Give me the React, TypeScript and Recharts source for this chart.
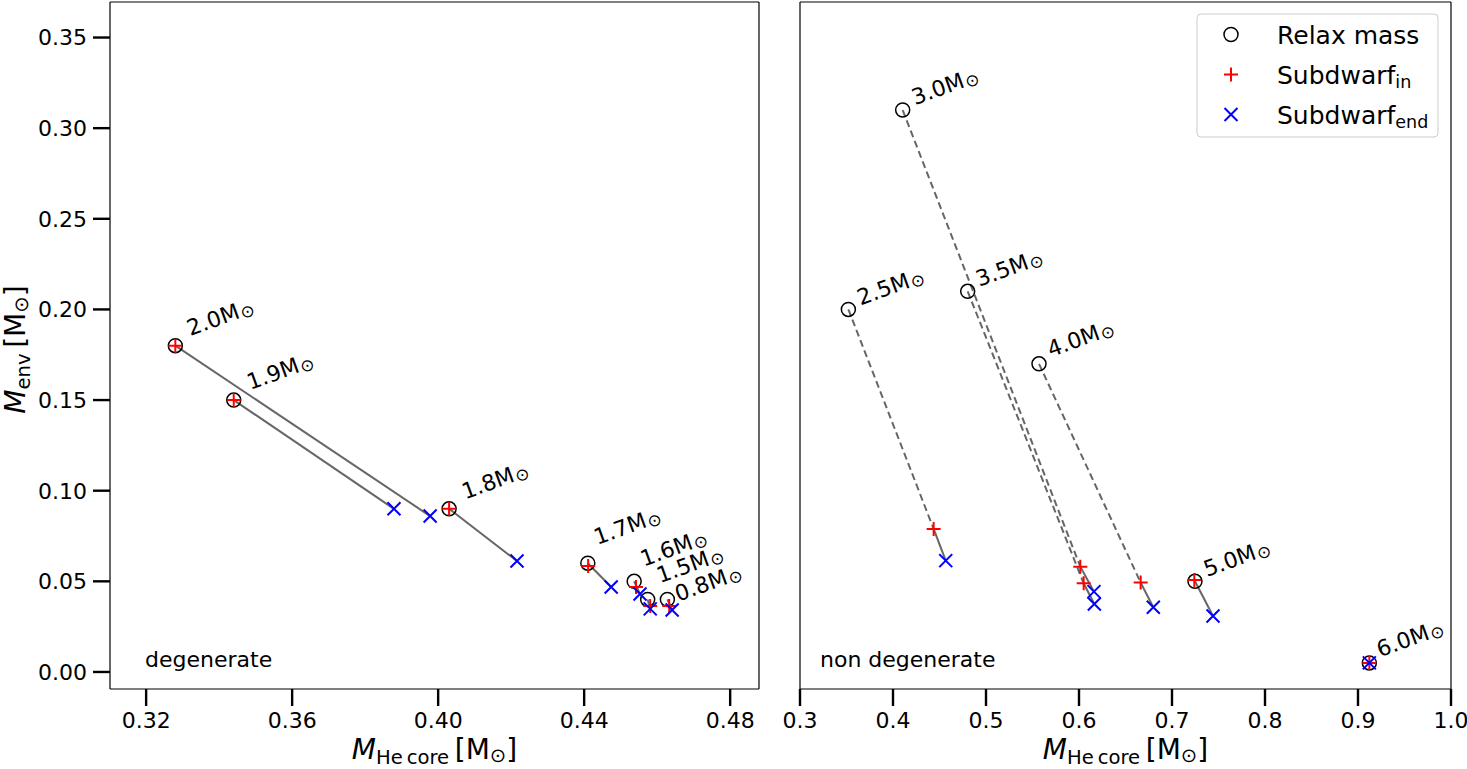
import React from 'react';
import { ScatterChart, Scatter, XAxis, YAxis } from 'recharts';

const FONT = '"DejaVu Sans", sans-serif';

// ---------- Left panel (degenerate) ----------
const leftMasses = ['2.0', '1.9', '1.8', '1.7', '1.6', '1.5', '0.8'];
const leftRelaxX = [0.328, 0.344, 0.403, 0.441, 0.4537, 0.4574, 0.4628];
const leftRelaxY = [0.18, 0.15, 0.09, 0.06, 0.05, 0.04, 0.04];
const leftInX = [0.328, 0.344, 0.403, 0.4411, 0.4542, 0.4581, 0.4633];
const leftInY = [0.18, 0.15, 0.09, 0.0585, 0.0469, 0.0364, 0.0364];
const leftEndX = [0.3978, 0.3879, 0.4216, 0.4474, 0.4553, 0.4581, 0.4641];
const leftEndY = [0.086, 0.09, 0.0612, 0.0469, 0.043, 0.0348, 0.0342];
const leftLabelX = [0.3321, 0.3485, 0.4074, 0.4436, 0.4563, 0.4608, 0.4658];
const leftLabelY = [0.1853, 0.1555, 0.0952, 0.07, 0.0581, 0.0489, 0.0388];

// ---------- Right panel (non degenerate) ----------
const rightMasses = ['2.5', '3.0', '3.5', '4.0', '5.0', '6.0'];
const rightRelaxX = [0.352, 0.4104, 0.4803, 0.557, 0.7247, 0.9122];
const rightRelaxY = [0.2, 0.31, 0.21, 0.17, 0.05, 0.005];
const rightInX = [0.4437, 0.6014, 0.605, 0.6663, 0.724, 0.9122];
const rightInY = [0.0789, 0.0581, 0.0489, 0.0493, 0.0507, 0.005];
const rightEndX = [0.4567, 0.6161, 0.6165, 0.6799, 0.7441, 0.9122];
const rightEndY = [0.0614, 0.0443, 0.0375, 0.0357, 0.0309, 0.005];
const rightLabelX = [0.3651, 0.4237, 0.4928, 0.5696, 0.7376, 0.9237];
const rightLabelY = [0.2022, 0.3127, 0.2125, 0.1736, 0.0524, 0.0081];

// ---------- Axes ----------
const leftXTicks = [0.32, 0.36, 0.4, 0.44, 0.48];
const rightXTicks = [0.3, 0.4, 0.5, 0.6, 0.7, 0.8, 0.9, 1.0];
const yTicks = [0, 0.05, 0.1, 0.15, 0.2, 0.25, 0.3, 0.35];
const leftXDomain = [0.3101, 0.4879];
const rightXDomain = [0.3, 1.0];
const yDomain = [-0.0094, 0.3696];

const regimeText = ['degenerate', 'non degenerate'];
const regimeX = [0.3197, 0.3215];
const regimeY = [0.0025, 0.0025];

const legendLabels = ['Relax mass', 'Subdwarf', 'Subdwarf'];
const legendSubs = ['', 'in', 'end'];

const zip = (xs: number[], ys: number[]) => xs.map((x, i) => ({ x, y: ys[i] }));

const CircleMark = (p: any) => (
  <circle cx={p.cx} cy={p.cy} r={7} fill="none" stroke="#000" strokeWidth={1.5} />
);
const PlusMark = (p: any) => (
  <path d={`M${p.cx - 7},${p.cy}H${p.cx + 7}M${p.cx},${p.cy - 7}V${p.cy + 7}`} stroke="#ff0000" strokeWidth={2} />
);
const CrossMark = (p: any) => (
  <path
    d={`M${p.cx - 6.5},${p.cy - 6.5}L${p.cx + 6.5},${p.cy + 6.5}M${p.cx - 6.5},${p.cy + 6.5}L${p.cx + 6.5},${p.cy - 6.5}`}
    stroke="#0000ff"
    strokeWidth={2}
  />
);
const NoMark = () => <g />;

const MassLabel = (p: any) => {
  const t = p.payload?.text ?? '';
  return (
    <text
      x={p.cx}
      y={p.cy}
      transform={`rotate(-20 ${p.cx} ${p.cy})`}
      fontFamily={FONT}
      fontSize={22}
      fill="#000"
    >
      {t}M
      <tspan fontSize={17} dx={1} dy={2}>{'\u2299'}</tspan>
    </text>
  );
};

const RegimeLabel = (p: any) => (
  <text x={p.cx} y={p.cy} fontFamily={FONT} fontSize={22} fill="#000">
    {p.payload?.text}
  </text>
);

const XTitle = (props: any) => {
  const vb = props.viewBox || {};
  const cx = (vb.x ?? 0) + (vb.width ?? 0) / 2;
  const y = (vb.y ?? 0) + 70;
  return (
    <text x={cx} y={y} textAnchor="middle" fontFamily={FONT} fontSize={28} fill="#000">
      <tspan fontStyle="italic">M</tspan>
      <tspan fontSize={19.6} dy={5}>{'He\u2009core'}</tspan>
      <tspan dy={-5}>{'\u2009[M'}</tspan>
      <tspan fontSize={19.6} dy={3}>{'\u2299'}</tspan>
      <tspan dy={-3}>]</tspan>
    </text>
  );
};

const YTitle = (props: any) => {
  const vb = props.viewBox || {};
  const cy = (vb.y ?? 0) + (vb.height ?? 0) / 2 + 4;
  const x = 25;
  return (
    <text
      x={x}
      y={cy}
      textAnchor="middle"
      transform={`rotate(-90 ${x} ${cy})`}
      fontFamily={FONT}
      fontSize={28}
      fill="#000"
    >
      <tspan fontStyle="italic">M</tspan>
      <tspan fontSize={19.6} dy={5}>env</tspan>
      <tspan dy={-5}>{'\u2009[M'}</tspan>
      <tspan fontSize={19.6} dy={3}>{'\u2299'}</tspan>
      <tspan dy={-3}>]</tspan>
    </text>
  );
};

const tickStyle = { fill: '#000', fontSize: 22, fontFamily: FONT };
const tickLineStyle = { stroke: '#000', strokeWidth: 2.4 };
const spine = { stroke: '#000', strokeWidth: 1.2 };
const grayLine = '#666666';

function Panel(props: {
  width: number;
  marginRight: number;
  yWidth: number;
  showYLabels: boolean;
  xDomain: number[];
  xTicks: number[];
  xFmt: (v: number) => string;
  masses: string[];
  relaxX: number[];
  relaxY: number[];
  inX: number[];
  inY: number[];
  endX: number[];
  endY: number[];
  labelX: number[];
  labelY: number[];
  dashedToIn: boolean;
  regimeIndex: number;
}) {
  const {
    width, marginRight, yWidth, showYLabels, xDomain, xTicks, xFmt, masses,
    relaxX, relaxY, inX, inY, endX, endY, labelX, labelY, dashedToIn, regimeIndex,
  } = props;
  const relax = zip(relaxX, relaxY);
  const sdIn = zip(inX, inY);
  const sdEnd = zip(endX, endY);
  const labels = labelX.map((x, i) => ({ x, y: labelY[i], text: masses[i] }));
  const regime = [{ x: regimeX[regimeIndex], y: regimeY[regimeIndex], text: regimeText[regimeIndex] }];

  return (
    <ScatterChart width={width} height={769} margin={{ top: 1, right: marginRight - 1, bottom: 0, left: 0 }}>
      <XAxis
        xAxisId="b"
        type="number"
        dataKey="x"
        domain={xDomain}
        ticks={xTicks}
        tickFormatter={xFmt}
        allowDataOverflow
        height={80}
        tickSize={17}
        tickMargin={6}
        tick={tickStyle}
        tickLine={tickLineStyle}
        axisLine={spine}
        label={{ content: XTitle }}
      />
      <XAxis
        xAxisId="t"
        orientation="top"
        type="number"
        dataKey="x"
        domain={xDomain}
        allowDataOverflow
        height={1}
        tick={false}
        tickLine={false}
        axisLine={spine}
      />
      <YAxis
        yAxisId="l"
        type="number"
        dataKey="y"
        domain={yDomain}
        ticks={yTicks}
        tickFormatter={(v: number) => v.toFixed(2)}
        allowDataOverflow
        width={yWidth}
        tickSize={17}
        tickMargin={6}
        tick={showYLabels ? tickStyle : false}
        tickLine={tickLineStyle}
        axisLine={spine}
        label={showYLabels ? { content: YTitle } : undefined}
      />
      <YAxis
        yAxisId="r"
        orientation="right"
        type="number"
        dataKey="y"
        domain={yDomain}
        allowDataOverflow
        width={1}
        tick={false}
        tickLine={false}
        axisLine={spine}
      />
      {/* invisible series bound to the top/right axes so that those spines render */}
      <Scatter xAxisId="t" yAxisId="r" data={relax} shape={NoMark} isAnimationActive={false} />
      {relax.map((r, i) =>
        dashedToIn ? (
          <Scatter
            key={`d${i}`}
            xAxisId="b"
            yAxisId="l"
            data={[r, sdIn[i]]}
            shape={NoMark}
            line={{ stroke: grayLine, strokeWidth: 2, strokeDasharray: '7 4' }}
            isAnimationActive={false}
          />
        ) : null
      )}
      {relax.map((r, i) => (
        <Scatter
          key={`s${i}`}
          xAxisId="b"
          yAxisId="l"
          data={dashedToIn ? [sdIn[i], sdEnd[i]] : [r, sdEnd[i]]}
          shape={NoMark}
          line={{ stroke: grayLine, strokeWidth: 2 }}
          isAnimationActive={false}
        />
      ))}
      <Scatter xAxisId="b" yAxisId="l" data={relax} shape={CircleMark} isAnimationActive={false} />
      <Scatter xAxisId="b" yAxisId="l" data={sdIn} shape={PlusMark} isAnimationActive={false} />
      <Scatter xAxisId="b" yAxisId="l" data={sdEnd} shape={CrossMark} isAnimationActive={false} />
      <Scatter xAxisId="b" yAxisId="l" data={labels} shape={MassLabel} isAnimationActive={false} />
      <Scatter xAxisId="b" yAxisId="l" data={regime} shape={RegimeLabel} isAnimationActive={false} />
    </ScatterChart>
  );
}

function LegendBox() {
  const rows = [34.5, 74.5, 114.5];
  const markers = [
    <circle key="c" cx={1231} cy={rows[0]} r={7} fill="none" stroke="#000" strokeWidth={1.5} />,
    <path key="p" d={`M1224,${rows[1]}H1238M1231,${rows[1] - 7}V${rows[1] + 7}`} stroke="#ff0000" strokeWidth={2} />,
    <path
      key="x"
      d={`M1224.5,${rows[2] - 6.5}L1237.5,${rows[2] + 6.5}M1224.5,${rows[2] + 6.5}L1237.5,${rows[2] - 6.5}`}
      stroke="#0000ff"
      strokeWidth={2}
    />,
  ];
  return (
    <svg width={1467} height={769} style={{ position: 'absolute', left: 0, top: 0, pointerEvents: 'none' }}>
      <rect x={1197} y={14} width={241} height={123} rx={4} fill="#fff" fillOpacity={0.8} stroke="#cccccc" strokeWidth={1} />
      {markers}
      {legendLabels.map((t, i) => (
        <text key={i} x={1277} y={rows[i] + 9} fontFamily={FONT} fontSize={25} fill="#000">
          {t}
          {legendSubs[i] ? (
            <tspan fontSize={17.5} dy={4}>{legendSubs[i]}</tspan>
          ) : null}
        </text>
      ))}
    </svg>
  );
}

export default function App() {
  return (
    <div style={{ position: 'absolute', left: 0, top: 0, width: 1467, height: 769, background: '#fff' }}>
      <div style={{ position: 'absolute', left: 0, top: 0 }}>
        <Panel
          width={770}
          marginRight={11}
          yWidth={110}
          showYLabels={true}
          xDomain={leftXDomain}
          xTicks={leftXTicks}
          xFmt={(v) => v.toFixed(2)}
          masses={leftMasses}
          relaxX={leftRelaxX}
          relaxY={leftRelaxY}
          inX={leftInX}
          inY={leftInY}
          endX={leftEndX}
          endY={leftEndY}
          labelX={leftLabelX}
          labelY={leftLabelY}
          dashedToIn={false}
          regimeIndex={0}
        />
      </div>
      <div style={{ position: 'absolute', left: 770, top: 0 }}>
        <Panel
          width={697}
          marginRight={16}
          yWidth={30}
          showYLabels={false}
          xDomain={rightXDomain}
          xTicks={rightXTicks}
          xFmt={(v) => v.toFixed(1)}
          masses={rightMasses}
          relaxX={rightRelaxX}
          relaxY={rightRelaxY}
          inX={rightInX}
          inY={rightInY}
          endX={rightEndX}
          endY={rightEndY}
          labelX={rightLabelX}
          labelY={rightLabelY}
          dashedToIn={true}
          regimeIndex={1}
        />
      </div>
      <LegendBox />
    </div>
  );
}
